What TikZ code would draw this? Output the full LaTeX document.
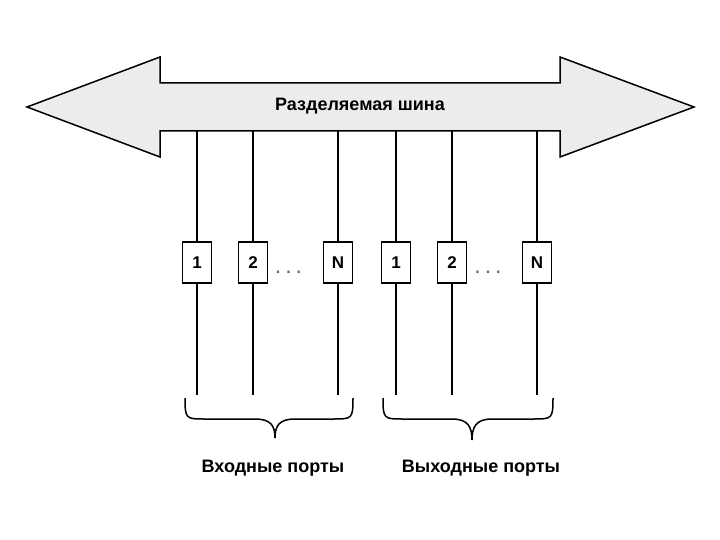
\documentclass[tikz,border=0pt]{standalone}
\usepackage{fontspec}
\setmainfont{Liberation Sans}
\begin{document}
\begin{tikzpicture}[x=1pt,y=-1pt,
  bus/.style={draw=black,line width=1.5pt,fill=gray!15,line join=miter},
  port/.style={draw=black,line width=1.6pt,fill=white,minimum width=29pt,minimum height=41pt,inner sep=0pt,font=\bfseries\fontsize{17pt}{17pt}\selectfont},
  wire/.style={draw=black,line width=1.5pt},
  brace/.style={draw=black,line width=1.5pt},
  dots/.style={font=\bfseries\fontsize{16pt}{16pt}\selectfont,text=black!60,inner sep=0pt},
  lbl/.style={font=\bfseries\fontsize{18pt}{18pt}\selectfont,inner sep=0pt}]
\useasboundingbox (0,0) rectangle (720,540);
% shared bus arrow
\draw[bus] (27,107) -- (160,57) -- (160,83) -- (560,83) -- (560,57) -- (694,107)
  -- (560,157) -- (560,131) -- (160,131) -- (160,157) -- cycle;
\node[lbl] (title) at (360,106) {Разделяемая шина};
% ports
\foreach \n/\x/\t in {a1/197/1,a2/253/2,aN/338/N,b1/396/1,b2/452/2,bN/537/N}{
  \coordinate (\n top) at (\x,131);
  \coordinate (\n bot) at (\x,395);
  \node[port] (\n) at (\x,262.5) {\t};
  \draw[wire] (\n top) -- (\n.north);
  \draw[wire] (\n.south) -- (\n bot);
}
\node[dots] (dotsA) at (288.5,272) {.\hspace{6pt}.\hspace{6pt}.};
\node[dots] (dotsB) at (488,272) {.\hspace{6pt}.\hspace{6pt}.};
% braces
\draw[brace] (185,398) .. controls (185,419) and (186,419) .. (205,419) -- (255,419)
  .. controls (271,419) and (275,426) .. (275,438)
  .. controls (275,426) and (279,419) .. (295,419) -- (333,419)
  .. controls (352,419) and (353,419) .. (353,398);
\draw[brace] (383,398) .. controls (383,419) and (384,419) .. (403,419) -- (452,419)
  .. controls (468,419) and (472,427) .. (472,440)
  .. controls (472,427) and (476,419) .. (492,419) -- (533,419)
  .. controls (552,419) and (553,419) .. (553,398);
\node[lbl] (inlbl) at (273,468) {Входные порты};
\node[lbl] (outlbl) at (481,468) {Выходные порты};
\end{tikzpicture}
\end{document}
